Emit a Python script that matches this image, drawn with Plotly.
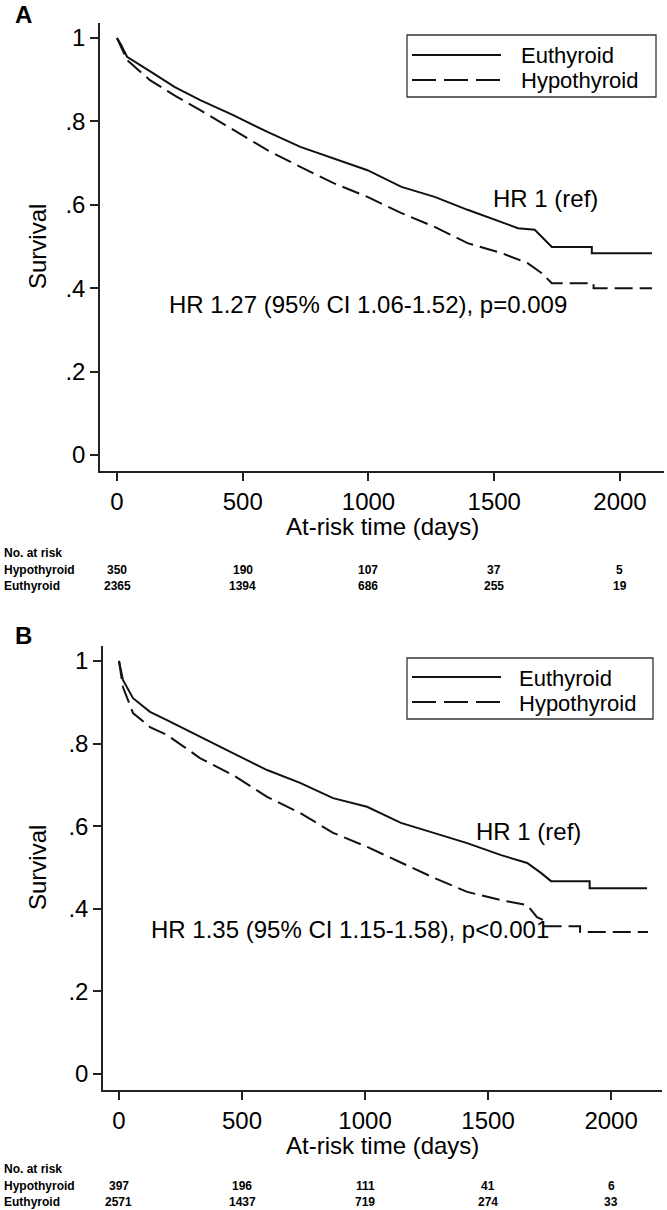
import glob
import plotly.graph_objects as go

# ---------------- data ----------------
a_euth_days = [0, 15, 40, 90, 143, 230, 331, 462, 598, 729, 861, 996, 1131, 1263, 1394, 1530, 1594, 1661, 1700, 1729, 1888, 1888, 2127]
a_euth_surv = [1.0, 0.985, 0.955, 0.935, 0.916, 0.882, 0.851, 0.815, 0.775, 0.739, 0.712, 0.683, 0.643, 0.619, 0.588, 0.559, 0.544, 0.540, 0.515, 0.499, 0.499, 0.484, 0.484]
a_hypo_days = [0, 15, 40, 131, 230, 331, 462, 598, 729, 861, 996, 1131, 1263, 1394, 1530, 1633, 1689, 1729, 1895, 1895, 2127]
a_hypo_surv = [1.0, 0.98, 0.947, 0.899, 0.862, 0.827, 0.779, 0.731, 0.691, 0.652, 0.619, 0.580, 0.547, 0.508, 0.484, 0.460, 0.436, 0.412, 0.412, 0.400, 0.400]

b_euth_days = [0, 16, 57, 126, 195, 329, 463, 602, 736, 870, 1008, 1146, 1280, 1415, 1553, 1659, 1715, 1756, 1913, 1913, 2146]
b_euth_surv = [1.0, 0.954, 0.910, 0.877, 0.857, 0.816, 0.777, 0.736, 0.705, 0.668, 0.647, 0.608, 0.584, 0.559, 0.530, 0.511, 0.487, 0.467, 0.467, 0.450, 0.450]
b_hypo_days = [0, 16, 57, 126, 195, 329, 463, 602, 736, 870, 1008, 1146, 1280, 1415, 1553, 1659, 1699, 1724, 1724, 1874, 1874, 2150]
b_hypo_surv = [1.0, 0.937, 0.874, 0.840, 0.821, 0.765, 0.724, 0.671, 0.632, 0.584, 0.550, 0.511, 0.475, 0.441, 0.421, 0.409, 0.380, 0.373, 0.358, 0.358, 0.344, 0.344]

x_ticks = [0, 500, 1000, 1500, 2000]
y_ticks = [0, 0.2, 0.4, 0.6, 0.8, 1.0]
y_tick_labels = ["0", ".2", ".4", ".6", ".8", "1"]

a_risk_hypo = [350, 190, 107, 37, 5]
a_risk_euth = [2365, 1394, 686, 255, 19]
b_risk_hypo = [397, 196, 111, 41, 6]
b_risk_euth = [2571, 1437, 719, 274, 33]

series_names = ["Euthyroid", "Hypothyroid"]
a_hr_text = "HR 1.27 (95% CI 1.06-1.52), p=0.009"
b_hr_text = "HR 1.35 (95% CI 1.15-1.58), p<0.001"
ref_text = "HR 1 (ref)"

# ---------------- layout helpers ----------------
W, H = 667, 1210
def px(x):
    return x / W
def py(y):
    return 1 - y / H

FONT = "Liberation Sans, Arial, sans-serif"
narrow = glob.glob("/usr/share/fonts/**/LiberationSansNarrow*", recursive=True)
if narrow:
    TFONT = "Liberation Sans Narrow"
    TSIZE = 14
else:
    TFONT = "Liberation Sans"
    TSIZE = 12
INK = "#111111"
DASH = "18px,7px"

fig = go.Figure()

panels = [
    dict(x="x", y="y", ed=a_euth_days, es=a_euth_surv, hd=a_hypo_days, hs=a_hypo_surv),
    dict(x="x2", y="y2", ed=b_euth_days, es=b_euth_surv, hd=b_hypo_days, hs=b_hypo_surv),
]
for p in panels:
    fig.add_trace(go.Scatter(x=p["ed"], y=p["es"], xaxis=p["x"], yaxis=p["y"], mode="lines",
                             name=series_names[0], showlegend=False,
                             line=dict(color=INK, width=2)))
    fig.add_trace(go.Scatter(x=p["hd"], y=p["hs"], xaxis=p["x"], yaxis=p["y"], mode="lines",
                             name=series_names[1], showlegend=False,
                             line=dict(color=INK, width=2, dash=DASH)))

axis_common = dict(showline=True, linecolor="#222222", linewidth=1.5, showgrid=False, zeroline=False,
                   ticks="outside", ticklen=8, tickwidth=1.5, tickcolor="#222222",
                   tickfont=dict(family=FONT, size=24, color="black"))

fig.update_layout(
    width=W, height=H, margin=dict(l=0, r=0, t=0, b=0),
    paper_bgcolor="white", plot_bgcolor="white", showlegend=False,
    xaxis=dict(domain=[px(100), px(664)], range=[-67.6, 2175], anchor="y",
               tickvals=x_ticks, **axis_common),
    yaxis=dict(domain=[py(471), py(23)], range=[-0.0384, 1.036], anchor="x",
               tickvals=y_ticks, ticktext=y_tick_labels, **axis_common),
    xaxis2=dict(domain=[px(103), px(662)], range=[-65, 2207], anchor="y2",
                tickvals=x_ticks, **axis_common),
    yaxis2=dict(domain=[py(1090), py(646)], range=[-0.0387, 1.0363], anchor="x2",
                tickvals=y_ticks, ticktext=y_tick_labels, **axis_common),
)

ann = []
def text(x, y, s, size=24, xanchor="center", yanchor="middle", xref="paper", yref="paper",
         family=FONT, textangle=0, bold=False, align="center"):
    if bold:
        s = "<b>" + s + "</b>"
    ann.append(dict(x=x, y=y, xref=xref, yref=yref, text=s, showarrow=False, xanchor=xanchor,
                    yanchor=yanchor, textangle=textangle, align=align,
                    font=dict(family=family, size=size, color="black")))

# panel letters
text(px(24), py(15), "A", size=24, bold=True)
text(px(24), py(635), "B", size=24, bold=True)

# axis titles
text(px(382), py(526), "At-risk time (days)")
text(px(382), py(1145), "At-risk time (days)")
text(px(37), py(247), "Survival", textangle=-90)
text(px(37), py(868), "Survival", textangle=-90)

# HR annotations (data coords)
text(1702, 0.616, ref_text, xref="x", yref="y")
text(998, 0.36, a_hr_text, xref="x", yref="y")
text(1663, 0.588, ref_text, xref="x2", yref="y2")
text(940, 0.349, b_hr_text, xref="x2", yref="y2")

# risk tables
for (xa, top, hyp, eut) in [("x", 553, a_risk_hypo, a_risk_euth), ("x2", 1169, b_risk_hypo, b_risk_euth)]:
    text(px(2), py(top), "No. at risk", size=TSIZE, xanchor="left", family=TFONT, bold=True)
    text(px(2), py(top + 16.5), series_names[1], size=TSIZE, xanchor="left", family=TFONT, bold=True)
    text(px(2), py(top + 32.5), series_names[0], size=TSIZE, xanchor="left", family=TFONT, bold=True)
    for t, h_, e_ in zip(x_ticks, hyp, eut):
        text(t, py(top + 16.5), str(h_), size=TSIZE, xref=xa, family=TFONT, bold=True)
        text(t, py(top + 32.5), str(e_), size=TSIZE, xref=xa, family=TFONT, bold=True)

# manual legends (box, line samples, labels in one tight text block)
shapes = []
legend_label = "<br>".join('<span style="font-size:22px">%s</span>' % n for n in series_names)
for (x0, y0, x1, y1, r1, r2, tx) in [(407, 35, 656, 97, 55, 80, 519), (407, 658, 653, 719, 677, 702, 517)]:
    shapes.append(dict(type="rect", xref="paper", yref="paper", x0=px(x0), x1=px(x1), y0=py(y1), y1=py(y0),
                       line=dict(color="#333333", width=1.3), fillcolor="rgba(0,0,0,0)"))
    shapes.append(dict(type="line", xref="paper", yref="paper", x0=px(412), x1=px(501), y0=py(r1), y1=py(r1),
                       line=dict(color=INK, width=2)))
    shapes.append(dict(type="line", xref="paper", yref="paper", x0=px(412), x1=px(501), y0=py(r2), y1=py(r2),
                       line=dict(color=INK, width=2, dash="24px,8px")))
    text(px(tx), py((r1 + r2) / 2 + 1), legend_label, size=19.2, xanchor="left", align="left")

fig.update_layout(annotations=ann, shapes=shapes)
fig.write_html("out.html", config={"displayModeBar": False},
               post_script="document.body.style.margin='0';document.body.style.overflow='hidden';")
